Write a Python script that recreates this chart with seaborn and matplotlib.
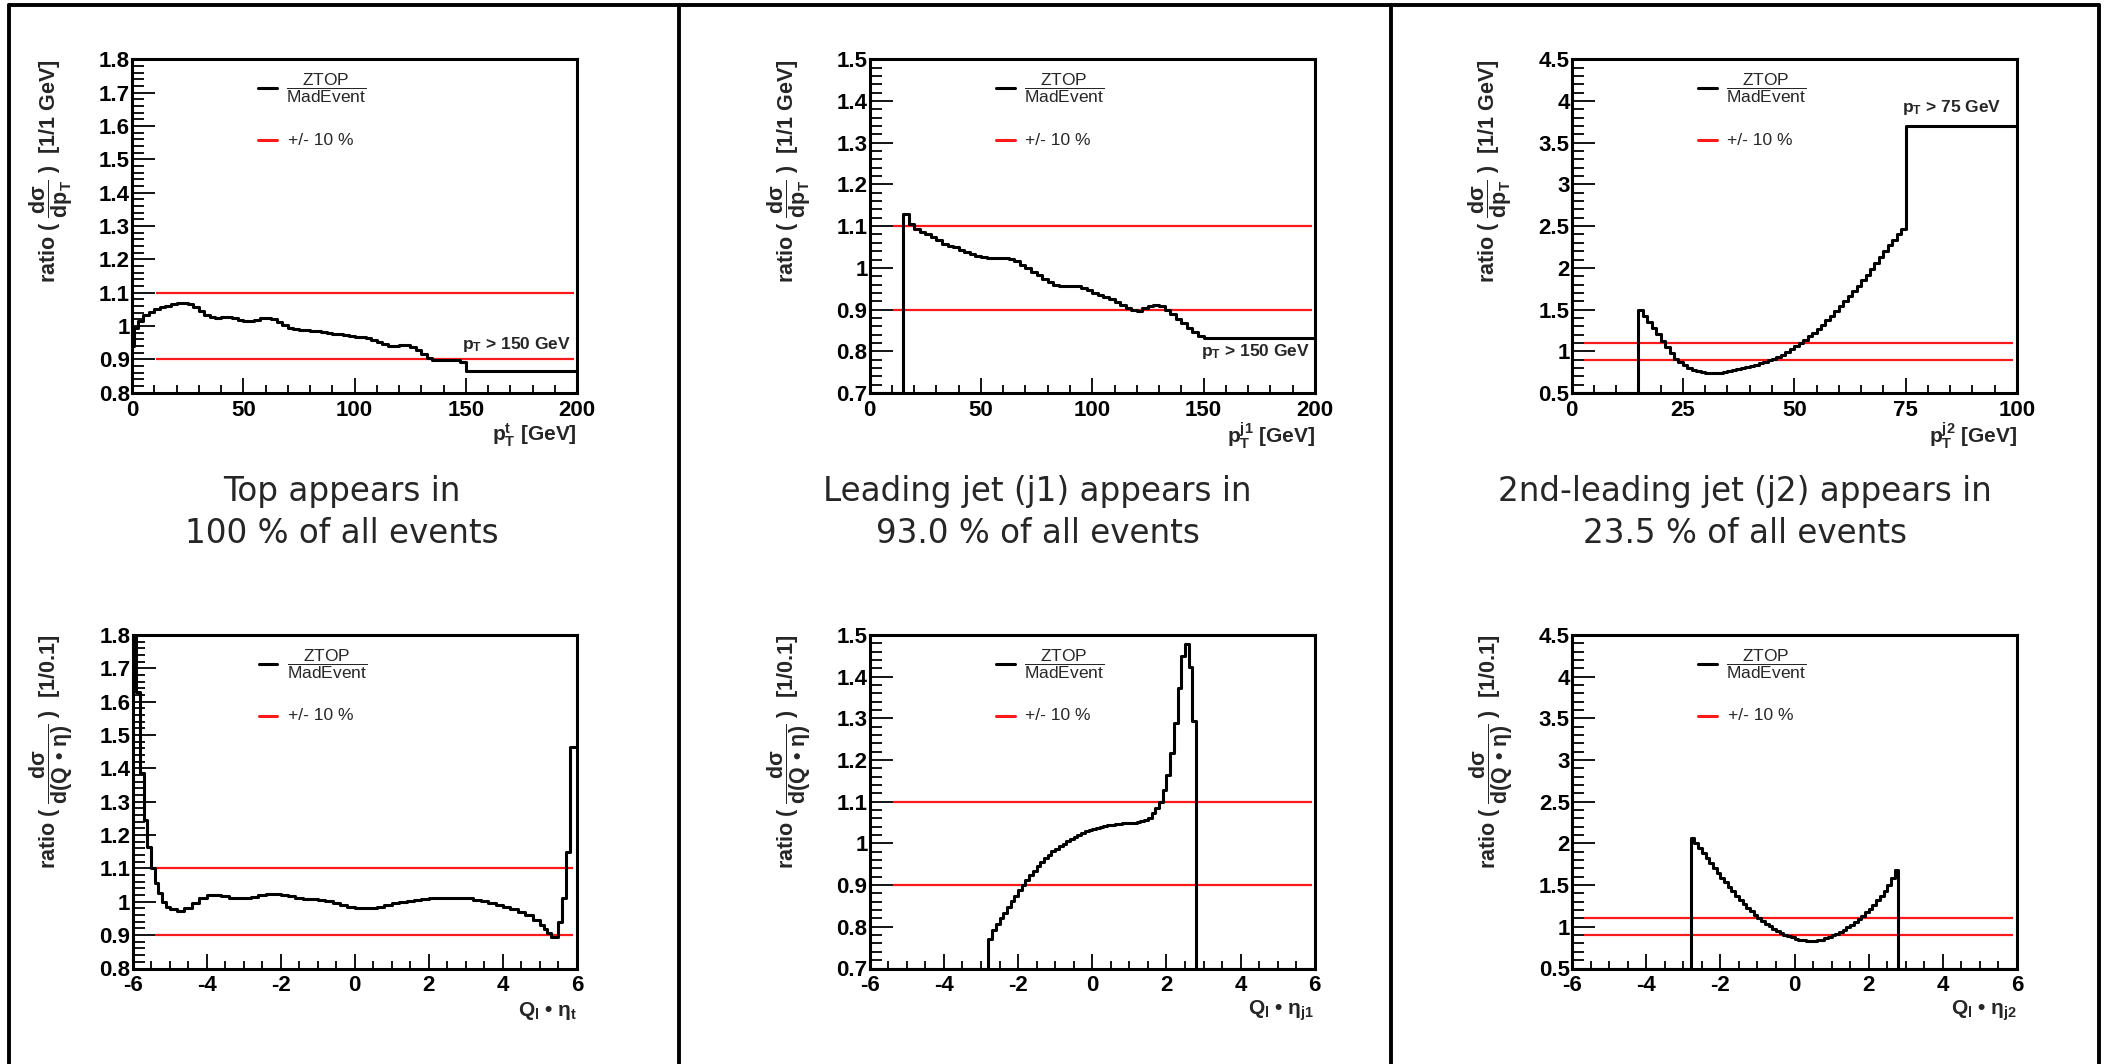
import numpy as np
import matplotlib
matplotlib.use("Agg")
import matplotlib.pyplot as plt
import seaborn as sns
from matplotlib.lines import Line2D
from matplotlib.ticker import MultipleLocator, FuncFormatter

# ------------------------------------------------------------------ data
# top-quark pT: ratio ZTOP/MadEvent per bin (last bin = overflow 150-200 GeV)
pt_top_edges = [0, 1] + [2.5 * k for k in range(1, 61)] + [200]
pt_top_ratio = [0.94, 0.995,
                1.015, 1.032, 1.042, 1.050, 1.056, 1.061, 1.066, 1.069, 1.070, 1.066,
                1.057, 1.045, 1.034, 1.026, 1.025, 1.027, 1.027, 1.023, 1.018, 1.014,
                1.014, 1.018, 1.023, 1.025, 1.022, 1.012, 1.002, 0.995, 0.991, 0.989,
                0.987, 0.985, 0.984, 0.982, 0.979, 0.977, 0.975, 0.972, 0.970, 0.968,
                0.966, 0.964, 0.959, 0.952, 0.945, 0.940, 0.941, 0.942, 0.942, 0.938,
                0.928, 0.915, 0.903, 0.898, 0.897, 0.898, 0.898, 0.897, 0.893,
                0.865]

# leading jet pT (overflow 150-200 GeV)
pt_j1_edges = [0] + [15 + 2.5 * k for k in range(55)] + [200]
pt_j1_ratio = [0.0,
               1.130, 1.105, 1.093, 1.087, 1.081, 1.074, 1.066, 1.058, 1.053, 1.049,
               1.044, 1.038, 1.033, 1.029, 1.026, 1.024, 1.023, 1.023, 1.023, 1.021,
               1.016, 1.008, 0.999, 0.991, 0.982, 0.973, 0.966, 0.960, 0.957, 0.957,
               0.957, 0.956, 0.952, 0.946, 0.940, 0.934, 0.930, 0.925, 0.919, 0.911,
               0.903, 0.898, 0.897, 0.903, 0.908, 0.910, 0.908, 0.900, 0.890, 0.877,
               0.867, 0.857, 0.846, 0.836,
               0.831]

# 2nd-leading jet pT (overflow 75-100 GeV)
pt_j2_edges = [0] + list(range(15, 76)) + [100]
pt_j2_ratio = [0.0,
               1.50, 1.42, 1.35, 1.28, 1.21, 1.12, 1.05, 0.98, 0.91, 0.87,
               0.83, 0.80, 0.78, 0.76, 0.75, 0.745, 0.74, 0.74, 0.74, 0.75,
               0.76, 0.77, 0.785, 0.80, 0.81, 0.825, 0.84, 0.855, 0.87, 0.89,
               0.91, 0.935, 0.96, 0.99, 1.03, 1.06, 1.10, 1.14, 1.18, 1.22,
               1.27, 1.32, 1.37, 1.42, 1.48, 1.54, 1.60, 1.66, 1.72, 1.78,
               1.85, 1.92, 1.99, 2.06, 2.13, 2.20, 2.27, 2.33, 2.40, 2.46,
               3.70]

# Q_l * eta of the top
eta_top_edges = ([round(-6.0 + 0.1 * k, 1) for k in range(11)]
                 + [round(-4.8 + 0.2 * k, 1) for k in range(50)]
                 + [round(5.1 + 0.1 * k, 1) for k in range(10)])
eta_top_ratio = [2.20, 1.63, 1.385, 1.245, 1.163, 1.100, 1.055, 1.025, 1.000, 0.985,
                 0.977, 0.973, 0.981, 0.996, 1.011, 1.019, 1.019, 1.016, 1.012, 1.010,
                 1.012, 1.015, 1.019, 1.022, 1.022, 1.019, 1.016, 1.012, 1.009, 1.007,
                 1.005, 1.001, 0.995, 0.989, 0.985, 0.982, 0.980, 0.981, 0.985, 0.990,
                 0.995, 1.000, 1.003, 1.006, 1.008, 1.010, 1.011, 1.012, 1.012, 1.012,
                 1.010, 1.006, 1.002, 0.997, 0.990, 0.985, 0.977, 0.969, 0.959, 0.944,
                 0.930, 0.918, 0.905, 0.893, 0.893, 0.940, 1.010, 1.150, 1.465, 1.465]

# Q_l * eta of the jets (empty outside |eta| < 2.8)
eta_jet_edges = [-6.0] + [round(-2.8 + 0.1 * k, 1) for k in range(57)] + [6.0]
eta_j1_ratio = [0.0,
                0.771, 0.792, 0.806, 0.820, 0.834, 0.848, 0.862, 0.875, 0.888, 0.900,
                0.913, 0.924, 0.935, 0.945, 0.956, 0.965, 0.973, 0.981, 0.987, 0.993,
                0.999, 1.005, 1.010, 1.015, 1.021, 1.025, 1.029, 1.033, 1.035, 1.038,
                1.040, 1.043, 1.044, 1.044, 1.046, 1.047, 1.048, 1.048, 1.049, 1.050,
                1.052, 1.054, 1.056, 1.062, 1.072, 1.084, 1.100, 1.129, 1.163, 1.217,
                1.288, 1.374, 1.449, 1.479, 1.424, 1.293,
                0.0]
eta_j2_ratio = [0.0,
                2.065, 2.005, 1.945, 1.885, 1.825, 1.765, 1.706, 1.646, 1.586, 1.534,
                1.478, 1.426, 1.374, 1.326, 1.278, 1.227, 1.187, 1.147, 1.107, 1.075,
                1.035, 1.007, 0.979, 0.947, 0.927, 0.903, 0.887, 0.875, 0.859, 0.847,
                0.839, 0.835, 0.835, 0.835, 0.839, 0.847, 0.863, 0.879, 0.899, 0.919,
                0.939, 0.967, 0.999, 1.027, 1.059, 1.095, 1.135, 1.175, 1.219, 1.267,
                1.318, 1.374, 1.434, 1.506, 1.586, 1.686,
                0.0]

band_levels = [1.1, 0.9]

titles_line1 = ["Top appears in", "Leading jet (j1) appears in", "2nd-leading jet (j2) appears in"]
titles_line2 = ["100 % of all events", "93.0 % of all events", "23.5 % of all events"]

ylabel_pt = r"ratio ( $\dfrac{\mathbf{d\sigma}}{\mathbf{dp}_{\mathbf{T}}}$ )  [1/1 GeV]"
ylabel_eta = r"ratio ( $\dfrac{\mathbf{d\sigma}}{\mathbf{d(Q}\ \mathbf{•}\ \mathrm{\eta}\mathbf{)}}$ )  [1/0.1]"
xlabels = [r"$\mathbf{p}_{\mathbf{T}}^{\mathbf{t}}$ [GeV]",
           r"$\mathbf{p}_{\mathbf{T}}^{\mathbf{j1}}$ [GeV]",
           r"$\mathbf{p}_{\mathbf{T}}^{\mathbf{j2}}$ [GeV]",
           r"$\mathbf{Q}_{\mathbf{l}}$ • $\mathrm{\eta}_{\mathbf{t}}$",
           r"$\mathbf{Q}_{\mathbf{l}}$ • $\mathrm{\eta}_{\mathbf{j1}}$",
           r"$\mathbf{Q}_{\mathbf{l}}$ • $\mathrm{\eta}_{\mathbf{j2}}$"]

# ------------------------------------------------------------------ style
sns.set_style("ticks")
plt.rcParams['font.family'] = ['Liberation Sans', 'DejaVu Sans']
plt.rcParams['font.weight'] = 'bold'
plt.rcParams['axes.labelweight'] = 'bold'
plt.rcParams['mathtext.fontset'] = 'custom'
plt.rcParams['mathtext.rm'] = 'Liberation Sans'
plt.rcParams['mathtext.bf'] = 'Liberation Sans:bold'
plt.rcParams['mathtext.it'] = 'Liberation Sans:italic'
plt.rcParams['mathtext.sf'] = 'Liberation Sans'

W, H = 2105, 1064
fig = plt.figure(figsize=(W / 100, H / 100), dpi=100)


def rect(l, r, t, b):
    return [l / W, 1 - b / H, (r - l) / W, (b - t) / H]


panels = [
    dict(rect=rect(132, 577, 59.3, 392.8), edges=pt_top_edges, vals=pt_top_ratio,
         xlim=(0, 200), ylim=(0.8, 1.8), xmaj=50, xmin=10, ymaj=0.1, ymin=0.02,
         band=(10.7, 198.5), ylabel=ylabel_pt, note=(r"$\mathbf{p}_{\mathbf{T}}$ > 150 GeV", 197.4, 0.932)),
    dict(rect=rect(869.7, 1314.8, 59.3, 393), edges=pt_j1_edges, vals=pt_j1_ratio,
         xlim=(0, 200), ylim=(0.7, 1.5), xmaj=50, xmin=10, ymaj=0.1, ymin=0.02,
         band=(10.6, 198.6), ylabel=ylabel_pt, note=(r"$\mathbf{p}_{\mathbf{T}}$ > 150 GeV", 197.8, 0.789)),
    dict(rect=rect(1571.6, 2017, 59.3, 393), edges=pt_j2_edges, vals=pt_j2_ratio,
         xlim=(0, 100), ylim=(0.5, 4.5), xmaj=25, xmin=5, ymaj=0.5, ymin=0.1,
         band=(2.8, 99.2), ylabel=ylabel_pt, note=(r"$\mathbf{p}_{\mathbf{T}}$ > 75 GeV", 96.4, 3.87)),
    dict(rect=rect(132.5, 577, 635, 968.5), edges=eta_top_edges, vals=eta_top_ratio,
         xlim=(-6, 6), ylim=(0.8, 1.8), xmaj=2, xmin=0.5, ymaj=0.1, ymin=0.02,
         band=(-5.4, 5.9), ylabel=ylabel_eta, note=None),
    dict(rect=rect(869.7, 1314.8, 635, 968.5), edges=eta_jet_edges, vals=eta_j1_ratio,
         xlim=(-6, 6), ylim=(0.7, 1.5), xmaj=2, xmin=0.5, ymaj=0.1, ymin=0.02,
         band=(-5.38, 5.92), ylabel=ylabel_eta, note=None),
    dict(rect=rect(1572, 2017, 635, 968.5), edges=eta_jet_edges, vals=eta_j2_ratio,
         xlim=(-6, 6), ylim=(0.5, 4.5), xmaj=2, xmin=0.5, ymaj=0.5, ymin=0.1,
         band=(-5.67, 5.9), ylabel=ylabel_eta, note=None),
]

fmt = FuncFormatter(lambda v, p: f"{v:g}")

for i, P in enumerate(panels):
    ax = fig.add_axes(P["rect"])
    lo, hi = P["ylim"]
    # +/- 10 % band lines
    ax.hlines(band_levels, P["band"][0], P["band"][1], colors="#ff1a1a", linewidth=1.6, zorder=2)
    # histogram (ROOT-like outline), empty bins drawn on the frame bottom
    e = np.asarray(P["edges"], float)
    v = np.clip(np.asarray(P["vals"], float), lo, None)
    y = np.append(v, v[-1])
    sns.lineplot(x=e, y=y, drawstyle="steps-post", estimator=None, sort=False,
                 color="black", linewidth=2.2, ax=ax, zorder=3)
    ax.set_xlim(*P["xlim"])
    ax.set_ylim(lo, hi)
    ax.xaxis.set_major_locator(MultipleLocator(P["xmaj"]))
    ax.xaxis.set_minor_locator(MultipleLocator(P["xmin"]))
    ax.yaxis.set_major_locator(MultipleLocator(P["ymaj"]))
    ax.yaxis.set_minor_locator(MultipleLocator(P["ymin"]))
    ax.xaxis.set_major_formatter(fmt)
    ax.yaxis.set_major_formatter(fmt)
    ax.tick_params(axis="both", which="both", direction="in", top=False, right=False,
                   width=1.3, labelsize=16, colors="black")
    ax.tick_params(axis="y", which="major", length=16.5, pad=1.5)
    ax.tick_params(axis="y", which="minor", length=8.5)
    ax.tick_params(axis="x", which="major", length=10.8, pad=5)
    ax.tick_params(axis="x", which="minor", length=5.8)
    for s in ax.spines.values():
        s.set_linewidth(2.2)
        s.set_color("black")
    # axis titles (ROOT style: aligned to the axis end)
    ax.set_ylabel(P["ylabel"], fontsize=15.5, loc="top", fontweight="bold")
    ax.yaxis.set_label_coords(-0.182, 1.0)
    ax.yaxis.label.set_verticalalignment("center")
    ax.set_xlabel(xlabels[i], fontsize=15, loc="right", fontweight="bold")
    ax.xaxis.set_label_coords(1.0, -0.128)
    ax.xaxis.label.set_verticalalignment("center")
    # legend (ROOT TLegend look)
    ax.plot([0.284, 0.326], [0.913, 0.913], transform=ax.transAxes, color="black", lw=2.2)
    ax.text(0.437, 0.913, r"$\dfrac{\mathregular{ZTOP}}{\mathregular{MadEvent}}$", transform=ax.transAxes,
            ha="center", va="center", fontsize=12.5, fontweight="normal")
    ax.plot([0.284, 0.326], [0.758, 0.758], transform=ax.transAxes, color="#ff1a1a", lw=2.2)
    ax.text(0.35, 0.758, "+/- 10 %", transform=ax.transAxes, ha="left", va="center",
            fontsize=12.5, fontweight="normal")
    if P["note"] is not None:
        txt, nx, ny = P["note"]
        ax.text(nx, ny, txt, ha="right", va="baseline", fontsize=12.5, fontweight="bold")

# captions under the upper row
col_centers = [341.7, 1037.5, 1744.6]
for cx, t1, t2 in zip(col_centers, titles_line1, titles_line2):
    fig.text(cx / W, 1 - 501 / H, t1, ha="center", va="baseline", fontsize=23.5,
             family=["DejaVu Sans"], fontweight="normal")
    fig.text(cx / W, 1 - 543 / H, t2, ha="center", va="baseline", fontsize=23.5,
             family=["DejaVu Sans"], fontweight="normal")

# column frames
ytop = 1 - 4.5 / H
fig.add_artist(Line2D([9 / W, 2099 / W], [ytop, ytop], transform=fig.transFigure, color="black", lw=2.8))
for xp in [9, 678.5, 1391, 2099]:
    fig.add_artist(Line2D([xp / W, xp / W], [ytop, 0], transform=fig.transFigure, color="black", lw=2.8))

fig.savefig("out.png", dpi=100)
